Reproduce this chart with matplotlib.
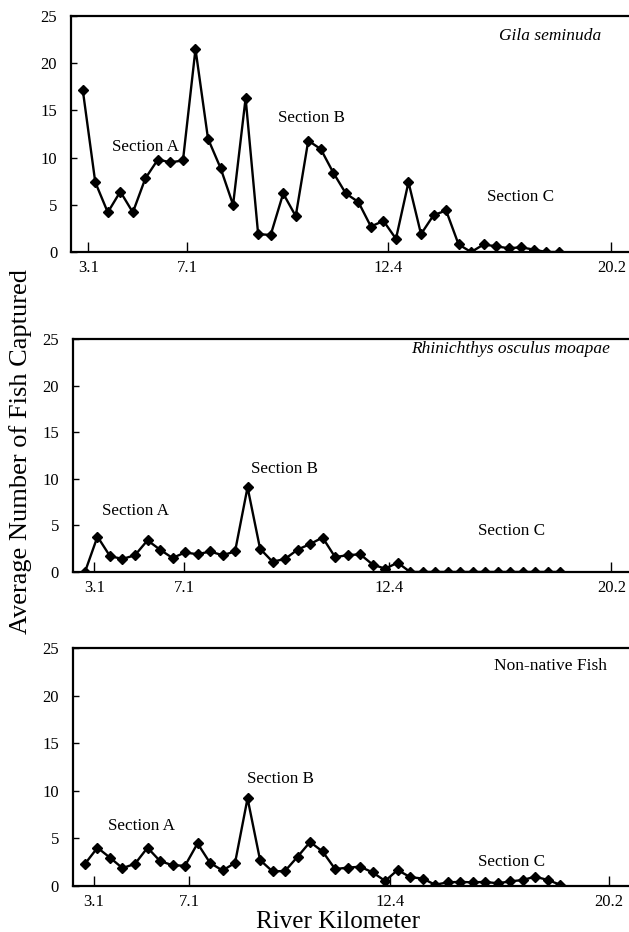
import matplotlib
matplotlib.use("Agg")
import matplotlib.pyplot as plt
import numpy as np

plt.rcParams['font.family'] = ['Liberation Serif', 'DejaVu Serif']

# average catch per sampling site, upstream to downstream
gila = [17.2, 7.4, 4.2, 6.4, 4.2, 7.8, 9.8, 9.5, 9.7, 21.5,
        12.0, 8.9, 5.0, 16.3, 1.9, 1.8, 6.2, 3.8, 11.8, 10.9,
        8.4, 6.2, 5.3, 2.7, 3.3, 1.4, 7.4, 1.9, 3.9, 4.4,
        0.8, 0.0, 0.8, 0.6, 0.4, 0.5, 0.25, 0.0, 0.0]
rhin = [0.0, 3.8, 1.7, 1.4, 1.8, 3.4, 2.4, 1.5, 2.1, 1.9,
        2.2, 1.8, 2.2, 9.1, 2.5, 1.1, 1.4, 2.4, 3.0, 3.7,
        1.6, 1.8, 1.9, 0.8, 0.35, 1.0, 0.0, 0.0, 0.0, 0.0,
        0.0, 0.0, 0.0, 0.0, 0.0, 0.0, 0.0, 0.0, 0.0]
nonnative = [2.3, 4.0, 2.95, 1.85, 2.3, 4.0, 2.6, 2.15, 2.1, 4.45,
             2.4, 1.6, 2.4, 9.2, 2.7, 1.5, 1.55, 3.05, 4.6, 3.6,
             1.75, 1.9, 2.0, 1.4, 0.5, 1.65, 0.9, 0.75, 0.1, 0.35,
             0.4, 0.35, 0.4, 0.25, 0.45, 0.6, 0.95, 0.6, 0.1]

km_labels = ['3.1', '7.1', '12.4', '20.2']
titles = ['Gila seminuda', 'Rhinichthys osculus moapae', 'Non-native Fish']
sections = ['Section A', 'Section B', 'Section C']

fig = plt.figure(figsize=(6.29, 9.32), dpi=100)

# series, axes rect, xlim, tick positions, section label spots, title spot, font style
panels = [
    (gila, [0.113, 0.7296, 0.887, 0.2532], (-0.93, 43.6), [0.45, 8.35, 24.4, 42.2],
     [(2.31, 11.15), (15.6, 14.16), (32.3, 5.86)], (0.951, 0.917), 'italic'),
    (rhin, [0.1156, 0.3863, 0.8844, 0.2497], (-0.98, 43.5), [0.75, 7.95, 24.3, 42.1],
     [(1.34, 6.56), (13.3, 11.03), (31.4, 4.38)], (0.965, 0.957), 'italic'),
    (nonnative, [0.1156, 0.0497, 0.8844, 0.2547], (-0.98, 43.5), [0.72, 8.34, 24.4, 41.9],
     [(1.84, 6.25), (12.97, 11.19), (31.4, 2.5)], (0.96, 0.927), 'normal'),
]

for i, (vals, rect, xl, tpos, spots, tspot, style) in enumerate(panels):
    ax = fig.add_axes(rect)
    x = np.arange(len(vals))
    ax.plot(x, vals, color='black', lw=1.7, marker='D', ms=5.6)
    ax.set_xlim(*xl)
    ax.set_ylim(0, 25)
    ax.set_yticks([0, 5, 10, 15, 20, 25])
    ax.set_xticks(tpos)
    ax.set_xticklabels(km_labels)
    ax.spines['right'].set_visible(False)
    for s in ['left', 'bottom', 'top']:
        ax.spines[s].set_linewidth(1.6)
    ax.tick_params(axis='y', direction='in', length=4, width=1, pad=10, labelsize=12)
    ax.tick_params(axis='x', direction='in', length=7, width=1, pad=6, labelsize=12)
    for lab, (sx, sy) in zip(sections, spots):
        ax.text(sx, sy, lab, fontsize=12.3, ha='left', va='center')
    ax.text(tspot[0], tspot[1], titles[i], transform=ax.transAxes,
            fontsize=12.5, style=style, ha='right', va='center')

fig.text(0.033, 0.516, 'Average Number of Fish Captured', rotation=90,
         fontsize=19, ha='center', va='center')
fig.text(0.537, 0.004, 'River Kilometer', fontsize=18, ha='center', va='baseline')

fig.savefig('out.png', dpi=100)
